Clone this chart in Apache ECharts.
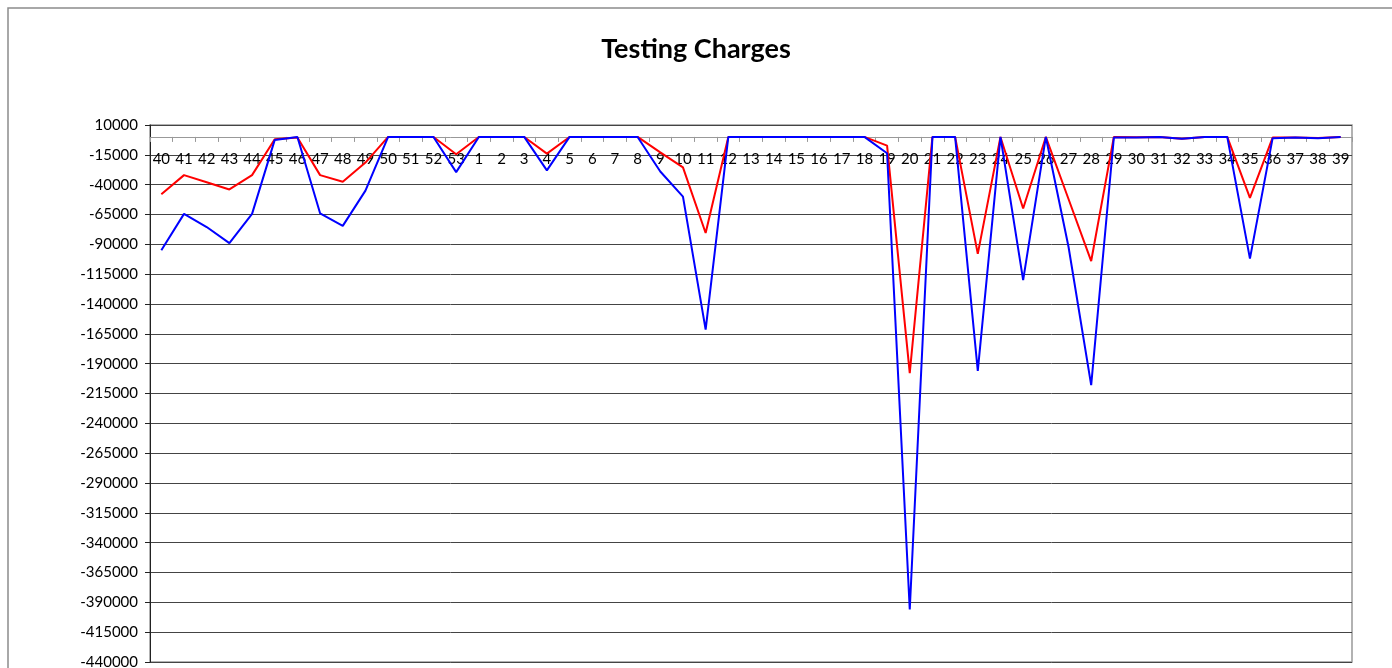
<!DOCTYPE html>
<html lang="en">
<head>
  <meta charset="UTF-8" />
  <title>Testing Charges</title>
  <script src="https://cdn.jsdelivr.net/npm/echarts@6.0.0/dist/echarts.min.js"></script>
  <style>
    body {
      margin: 0;
      background: #fff;
      overflow: hidden;
    }
    #main {
      width: 1392px;
      height: 668px;
    }
  </style>
</head>
<body>
  <div id="main"></div>
  <script>
    const chart = echarts.init(document.getElementById('main'));

    // week numbers, 40..53 then 1..39
    const weeks = ['40', '41', '42', '43', '44', '45', '46', '47', '48', '49', '50', '51', '52', '53',
      '1', '2', '3', '4', '5', '6', '7', '8', '9', '10', '11', '12', '13', '14', '15', '16', '17', '18', '19',
      '20', '21', '22', '23', '24', '25', '26', '27', '28', '29', '30', '31', '32', '33', '34', '35', '36',
      '37', '38', '39'];

    const redValues = [-48000, -32000, -38000, -44000, -32000, -2000, -500, -32000, -37500, -21500, 0, 0, 0, -14500,
      0, 0, 0, -14000, 0, 0, 0, 0, -13000, -25500, -80500, 0, 0, 0, 0, 0, 0, 0, -7300,
      -198000, 0, 0, -98000, 0, -60000, 0, -52000, -104000, 0, -300, 0, -1500, 0, 0, -51000, -500,
      -500, -800, 0];

    const blueValues = [-95000, -64500, -75500, -89000, -64500, -2500, 0, -64000, -74500, -45000, 0, 0, 0, -29500,
      0, 0, 0, -28000, 0, 0, 0, 0, -29000, -50000, -161500, 0, 0, 0, 0, 0, 0, 0, -13700,
      -396000, 0, 0, -196000, 0, -120000, 0, -92000, -208000, -500, -500, 0, -1500, 0, 0, -102000, -1000,
      -500, -1000, 0];

    const yMin = -440000;
    const yMax = 10000;
    const yStep = 25000;

    const labelFont = 'Lato, "Open Sans", sans-serif';

    const option = {
      backgroundColor: '#fff',
      animation: false,
      title: {
        text: 'Testing Charges',
        left: 'center',
        top: 31,
        textStyle: {
          fontFamily: labelFont,
          fontSize: 27,
          fontWeight: 'bold',
          color: '#000'
        }
      },
      graphic: [
        {
          type: 'rect',
          shape: { x: 8, y: 8, width: 1420, height: 700 },
          style: { fill: 'none', stroke: '#8c8c8c', lineWidth: 1.5 },
          silent: true
        }
      ],
      grid: {
        left: 150,
        top: 125,
        right: 40,
        bottom: 6,
        outerBoundsMode: 'none',
        show: true,
        borderColor: '#999',
        borderWidth: 1.5
      },
      xAxis: [
        {
          // axis line and ticks crossing at zero
          type: 'category',
          data: weeks,
          boundaryGap: true,
          axisLine: { onZero: true, lineStyle: { color: '#999', width: 1 } },
          axisTick: { show: true, interval: 0, length: 5, lineStyle: { color: '#999' } },
          axisLabel: { show: false },
          splitLine: { show: false }
        },
        {
          // week labels just under the zero line
          type: 'category',
          data: weeks,
          position: 'top',
          boundaryGap: true,
          axisLine: { show: false },
          axisTick: { show: false },
          axisLabel: {
            inside: true,
            interval: 0,
            margin: 27,
            color: '#000',
            fontFamily: labelFont,
            fontSize: 15
          },
          splitLine: { show: false }
        }
      ],
      yAxis: {
        type: 'value',
        min: yMin,
        max: yMax,
        interval: yStep,
        axisLine: { show: true, onZero: false, lineStyle: { color: '#222', width: 1 } },
        axisTick: { show: true, length: 5, lineStyle: { color: '#222' } },
        axisLabel: {
          margin: 12,
          color: '#000',
          fontFamily: labelFont,
          fontSize: 15,
          formatter: v => String(v)
        },
        splitLine: { show: true, lineStyle: { color: '#444', width: 1 } }
      },
      series: [
        {
          name: 'Series 1',
          type: 'line',
          data: redValues,
          symbol: 'none',
          lineStyle: { color: '#ff0000', width: 2 },
          itemStyle: { color: '#ff0000' }
        },
        {
          name: 'Series 2',
          type: 'line',
          data: blueValues,
          symbol: 'none',
          lineStyle: { color: '#0000ff', width: 2 },
          itemStyle: { color: '#0000ff' }
        }
      ]
    };

    chart.setOption(option);
  </script>
</body>
</html>
